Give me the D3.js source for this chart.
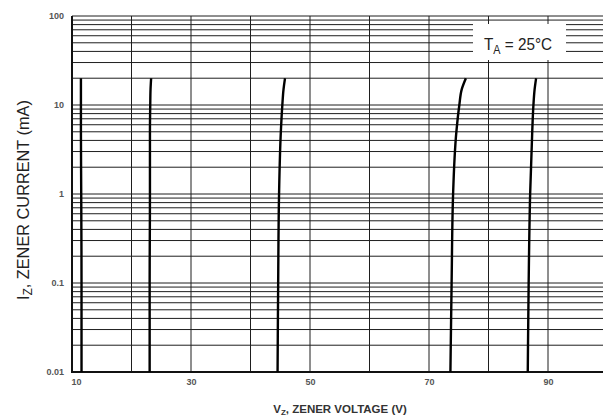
<!DOCTYPE html>
<html>
<head>
<meta charset="utf-8">
<script src="https://cdn.jsdelivr.net/npm/d3@7"></script>
<style>
  body { margin: 0; background: #fff; }
  svg { display: block; }
  .tick-label { font-family: "Liberation Sans", Arial, sans-serif; font-size: 9px; font-weight: bold; fill: #555; }
</style>
</head>
<body>
<svg id="chart" width="603" height="419"></svg>
<script>
// current levels (mA) the curves were read at
const currents = [0.01, 0.1, 1, 5, 10, 15, 20];
// zener voltage (V) of each device at those currents
const curveA = [11.6, 11.6, 11.55, 11.5, 11.5, 11.5, 11.5];
const curveB = [23.05, 23.05, 23.1, 23.1, 23.15, 23.2, 23.3];
const curveC = [44.55, 44.65, 44.8, 45.1, 45.35, 45.55, 45.8];
const curveD = [73.6, 73.8, 74.05, 74.6, 75.1, 75.5, 76.2];
const curveE = [86.6, 86.75, 87.0, 87.35, 87.55, 87.75, 88.0];

const yTicks = [0.01, 0.1, 1, 10, 100];
const yTickLabels = ['0.01', '0.1', '1', '10', '100'];
const xTicks = [10, 30, 50, 70, 90];
const xGrid = [10, 20, 30, 40, 50, 60, 70, 80, 90];

const svg = d3.select('#chart');
const x = d3.scaleLinear().domain([10, 100]).range([72, 607.5]);
const y = d3.scaleLog().domain([0.01, 100]).range([372, 16]);

// horizontal grid: every 1..9 of each decade
const hLines = [];
for (let e = -2; e < 2; e++) {
  for (let k = 1; k <= 9; k++) hLines.push(k * Math.pow(10, e));
}
hLines.push(100);

const grid = svg.append('g');
grid.selectAll('line.h').data(hLines).enter().append('line')
  .attr('x1', x(10)).attr('x2', 603)
  .attr('y1', d => y(d)).attr('y2', d => y(d))
  .attr('stroke', '#1e1e1e').attr('stroke-width', 1);

grid.selectAll('line.v').data(xGrid).enter().append('line')
  .attr('x1', d => x(d)).attr('x2', d => x(d))
  .attr('y1', y(100)).attr('y2', y(0.01))
  .attr('stroke', '#1e1e1e').attr('stroke-width', 1);

// heavier frame on left and bottom
svg.append('line').attr('x1', x(10)).attr('x2', x(10))
  .attr('y1', y(100)).attr('y2', y(0.01))
  .attr('stroke', '#111').attr('stroke-width', 2);
svg.append('line').attr('x1', x(10) - 1).attr('x2', 603)
  .attr('y1', y(0.01)).attr('y2', y(0.01))
  .attr('stroke', '#111').attr('stroke-width', 2.2);

// curves
const line = d3.line()
  .x(d => x(d[0])).y(d => y(d[1]))
  .curve(d3.curveMonotoneY);
[curveA, curveB, curveC, curveD, curveE].forEach(c => {
  svg.append('path')
    .datum(c.map((v, i) => [v, currents[i]]))
    .attr('d', line)
    .attr('fill', 'none').attr('stroke', '#000').attr('stroke-width', 2.4);
});

// axes labels
const yAxis = d3.axisLeft(y).tickValues(yTicks).tickFormat((d, i) => yTickLabels[i]).tickSize(0).tickPadding(8);
const gy = svg.append('g').attr('transform', `translate(${x(10)},0)`).call(yAxis);
gy.select('.domain').remove();
gy.selectAll('text').attr('class', 'tick-label').attr('font-family', null).attr('font-size', null).attr('fill', null);

const xAxis = d3.axisBottom(x).tickValues(xTicks).tickFormat(d3.format('d')).tickSize(0).tickPadding(7);
const gx = svg.append('g').attr('transform', `translate(0,${y(0.01)})`).call(xAxis);
gx.select('.domain').remove();
gx.selectAll('text').attr('class', 'tick-label').attr('font-family', null).attr('font-size', null).attr('fill', null);
gx.selectAll('.tick').filter(d => d === 10).select('text').attr('dx', 4);

// temperature box
const box = svg.append('g');
box.append('rect').attr('x', 473).attr('y', 24).attr('width', 93).attr('height', 36).attr('fill', '#fff');
const ta = box.append('text')
  .attr('transform', 'translate(484,50) scale(0.9,1)')
  .attr('font-family', '"Liberation Sans", Arial, sans-serif')
  .attr('font-size', 17).attr('fill', '#222');
ta.append('tspan').text('T');
ta.append('tspan').text('A').attr('font-size', 12).attr('dy', 4);
ta.append('tspan').text(' = 25°C').attr('dy', -4);

// y title
const yt = svg.append('text')
  .attr('transform', 'translate(29,200) rotate(-90) scale(0.96,1)')
  .attr('text-anchor', 'middle')
  .attr('font-family', '"Liberation Sans", Arial, sans-serif')
  .attr('font-size', 17).attr('fill', '#222');
yt.append('tspan').text('I');
yt.append('tspan').text('Z').attr('font-size', 12).attr('dy', 3);
yt.append('tspan').text(', ZENER CURRENT (mA)').attr('dy', -3);

// x title
const xt = svg.append('text')
  .attr('x', 340).attr('y', 413)
  .attr('text-anchor', 'middle')
  .attr('font-family', '"Liberation Sans", Arial, sans-serif')
  .attr('font-size', 11.5).attr('font-weight', 'bold').attr('fill', '#333');
xt.append('tspan').text('V');
xt.append('tspan').text('Z').attr('font-size', 8).attr('dy', 2);
xt.append('tspan').text(', ZENER VOLTAGE (V)').attr('dy', -2);
</script>
</body>
</html>
